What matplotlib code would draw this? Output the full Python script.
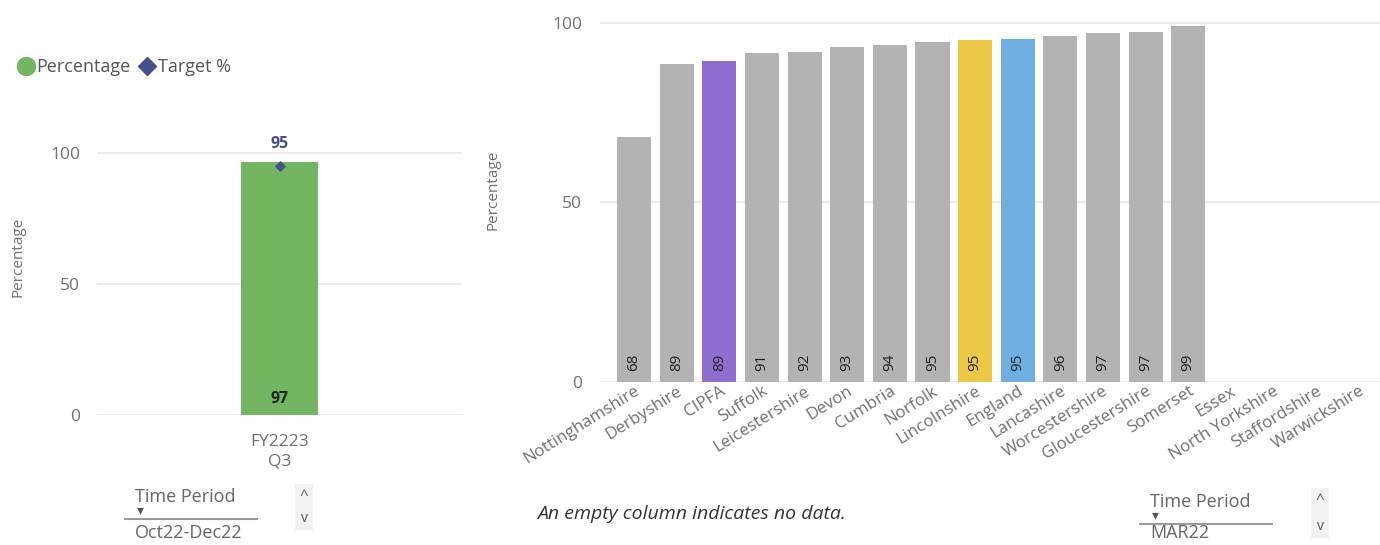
import matplotlib
matplotlib.use('Agg')
import matplotlib.pyplot as plt
from matplotlib.lines import Line2D
from matplotlib.patches import Rectangle

plt.rcParams['font.family'] = ['Open Sans', 'DejaVu Sans']

# left panel data
period = ['FY2223\nQ3']
percentage = [96.8]
target = [95]

# right panel data
areas = ['Nottinghamshire', 'Derbyshire', 'CIPFA', 'Suffolk', 'Leicestershire', 'Devon',
         'Cumbria', 'Norfolk', 'Lincolnshire', 'England', 'Lancashire', 'Worcestershire',
         'Gloucestershire', 'Somerset', 'Essex', 'North Yorkshire', 'Staffordshire',
         'Warwickshire']
values = [68.0, 88.6, 89.3, 91.4, 91.9, 93.3, 93.8, 94.6, 95.2, 95.4, 96.2, 97.1, 97.3, 99.0]
highlight = {'CIPFA': '#8e6fd0', 'Lincolnshire': '#ecc846', 'England': '#6faee0'}

grey_txt = '#707070'
grid_col = '#e9e9e9'

fig = plt.figure(figsize=(13.8, 5.45), dpi=100)

# ---- left chart
ax1 = fig.add_axes([97 / 1380, 1 - 415 / 545, 365 / 1380, 285 / 545])
ax1.bar(range(len(period)), percentage, width=0.21, color='#72b661', zorder=2)
ax1.scatter(range(len(period)), target, marker='D', s=22, color='#44508a', zorder=3)
for i, (p, t) in enumerate(zip(percentage, target)):
    ax1.text(i, 3, '%.0f' % p, ha='center', va='bottom', fontsize=11.5, fontweight='bold',
             color='#222222', zorder=4)
    ax1.text(i, t + 5.5, '%.0f' % t, ha='center', va='bottom', fontsize=11.5,
             fontweight='bold', color='#44508a', zorder=4)
ax1.set_xlim(-0.5, 0.5)
ax1.set_ylim(0, 108.9)
ax1.set_yticks([0, 50, 100])
ax1.set_xticks(range(len(period)))
ax1.set_xticklabels(period, fontsize=12.5, color=grey_txt, linespacing=1.25)
ax1.tick_params(axis='y', length=0, pad=12, labelsize=12.5, labelcolor=grey_txt)
ax1.tick_params(axis='x', length=0, pad=14)
ax1.grid(axis='y', color=grid_col, lw=1.2, zorder=0)
for s in ax1.spines.values():
    s.set_visible(False)
ax1.set_ylabel('Percentage', fontsize=11, color=grey_txt, labelpad=18)
ax1.yaxis.label.set_y(0.554)

handles = [Line2D([], [], marker='o', ls='', color='#72b661', markersize=13),
           Line2D([], [], marker='D', ls='', color='#44508a', markersize=9)]
fig.legend(handles, ['Percentage', 'Target %'], loc='center left',
           bbox_to_anchor=(-0.001, 1 - 67 / 545), ncol=2, frameon=False,
           handletextpad=0.0, columnspacing=0.3, handlelength=1.2, fontsize=13,
           labelcolor='#555555')

# ---- right chart
ax2 = fig.add_axes([600 / 1380, 1 - 381.7 / 545, 780 / 1380, 371.7 / 545])
cols = [highlight.get(a, '#b3b3b3') for a in areas[:len(values)]]
ax2.bar(range(len(values)), values, width=0.8, color=cols, zorder=2)
for i, v in enumerate(values):
    ax2.text(i, 3, '%.0f' % v, rotation=90, ha='center', va='bottom', fontsize=11,
             color='#222222', zorder=4)
ax2.set_xlim(-0.8, 17.5)
ax2.set_ylim(0, 103.5)
ax2.set_yticks([0, 50, 100])
ax2.set_xticks(range(len(areas)))
ax2.set_xticklabels(areas, rotation=32, ha='right', rotation_mode='anchor',
                    fontsize=12.2, color=grey_txt)
ax2.tick_params(axis='y', length=0, pad=13, labelsize=12.5, labelcolor=grey_txt)
ax2.tick_params(axis='x', length=0, pad=1)
ax2.grid(axis='y', color=grid_col, lw=1.2, zorder=0)
for s in ax2.spines.values():
    s.set_visible(False)
ax2.set_ylabel('Percentage', fontsize=11, color=grey_txt, labelpad=37)
ax2.yaxis.label.set_y(0.516)

fig.text(537 / 1380, 1 - 514 / 545, 'An empty column indicates no data.', fontsize=14,
         style='italic', color='#333333', va='center')


# slicer controls at the bottom
def slicer(x0, y_title, value, box_x, box_y0, box_y1):
    fig.text(x0 + 10 / 1380, 1 - y_title / 545, 'Time Period', fontsize=13,
             color='#666666', va='center')
    fig.text(x0 + 15 / 1380, 1 - (y_title + 14) / 545, '\u25BE', fontsize=10,
             color='#555555', va='center', ha='center')
    fig.add_artist(Line2D([x0, x0 + 132 / 1380], [1 - (y_title + 22) / 545] * 2,
                          color='#999999', lw=1.5))
    fig.text(x0 + 10 / 1380, 1 - min(y_title + 37, 533) / 545, value, fontsize=13,
             color='#666666', va='center')
    fig.add_artist(Rectangle((box_x / 1380, 1 - box_y1 / 545), 18 / 1380,
                             (box_y1 - box_y0) / 545, color='#f2f2f2', lw=0))
    fig.text((box_x + 9) / 1380, 1 - (box_y0 + 12) / 545, '^', fontsize=11,
             color='#555555', ha='center', va='center')
    fig.text((box_x + 9) / 1380, 1 - (box_y1 - 12) / 545, 'v', fontsize=10,
             color='#555555', ha='center', va='center')


slicer(125 / 1380, 497, 'Oct22-Dec22', 295, 484, 530)
slicer(1140 / 1380, 502, 'MAR22', 1311, 488, 538)

fig.savefig('out.png', dpi=100)
